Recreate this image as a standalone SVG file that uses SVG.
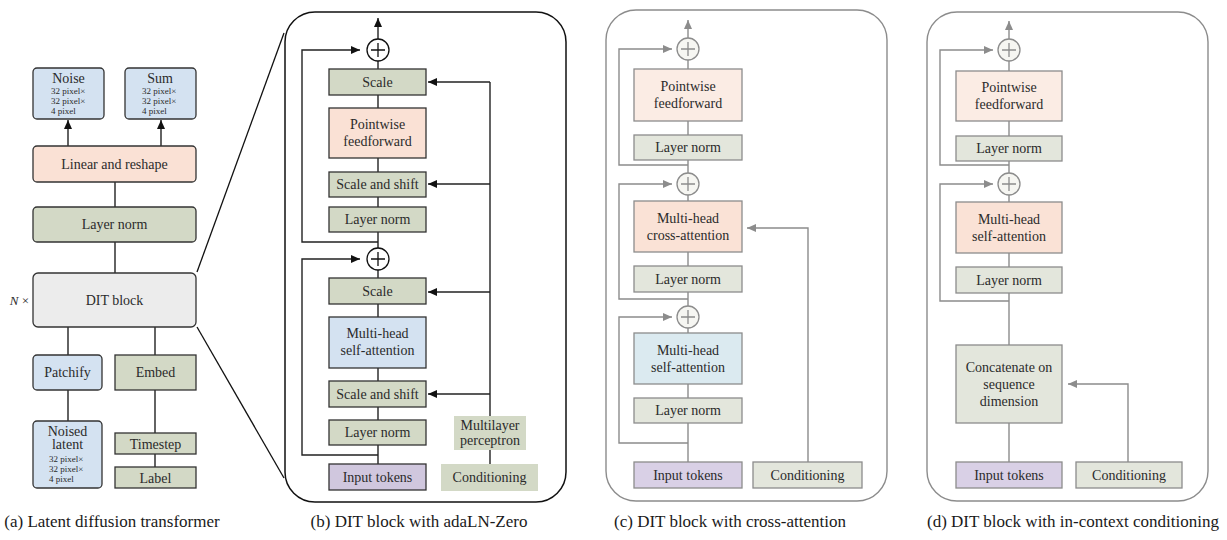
<svg xmlns="http://www.w3.org/2000/svg" width="1227" height="540" viewBox="0 0 1227 540" font-family="'Liberation Serif', 'DejaVu Serif', serif">
<style>
text{font-family:'Liberation Serif','DejaVu Serif',serif;fill:#2b2b2b;}
.t{font-size:14px;text-anchor:middle;}
.s{font-size:9px;}
.cap{font-size:17px;text-anchor:middle;fill:#1a1a1a;}
.k{stroke:#333;stroke-width:1.3;}
.g{stroke:#8c8c8c;stroke-width:1.3;}
.ln{fill:none;stroke:#222;stroke-width:1.4;}
.lg{fill:none;stroke:#8c8c8c;stroke-width:1.4;}
.blue{fill:#d4e2f1;}
.green{fill:#d3d9c6;}
.peach{fill:#fae1d5;}
.purple{fill:#d0c7de;}
.lgreen{fill:#e3e6dc;}
.lpeach{fill:#fbece4;}
.lpeach2{fill:#fae2d6;}
.lblue{fill:#dbeaf0;}
.lpurple{fill:#d9d0e6;}
</style>
<defs>
<marker id="ak" markerWidth="10" markerHeight="8" refX="9" refY="4" orient="auto" markerUnits="userSpaceOnUse"><path d="M0,0 L9,4 L0,8 Z" fill="#111"/></marker>
<marker id="ag" markerWidth="10" markerHeight="8" refX="9" refY="4" orient="auto" markerUnits="userSpaceOnUse"><path d="M0,0 L9,4 L0,8 Z" fill="#8c8c8c"/></marker>
</defs>

<g id="frames">
<rect x="285" y="12" width="281" height="490" rx="30" fill="none" stroke="#111" stroke-width="1.5"/>
<rect x="606" y="10" width="281" height="491" rx="30" fill="none" stroke="#8c8c8c" stroke-width="1.4"/>
<rect x="927" y="12" width="281" height="489" rx="30" fill="none" stroke="#8c8c8c" stroke-width="1.4"/>
<line x1="197" y1="272" x2="284" y2="33" stroke="#111" stroke-width="1.3"/>
<line x1="197" y1="327" x2="284" y2="478" stroke="#111" stroke-width="1.3"/>
</g>

<g id="connectors">
<line class="ln" x1="68" y1="146" x2="68" y2="120" marker-end="url(#ak)"/>
<line class="ln" x1="161" y1="146" x2="161" y2="120" marker-end="url(#ak)"/>
<line class="ln" x1="115" y1="182" x2="115" y2="207"/>
<line class="ln" x1="115" y1="242" x2="115" y2="273"/>
<line class="ln" x1="68" y1="327" x2="68" y2="355"/>
<line class="ln" x1="155" y1="327" x2="155" y2="355"/>
<line class="ln" x1="68" y1="390" x2="68" y2="421"/>
<line class="ln" x1="155" y1="390" x2="155" y2="433"/>
<line class="ln" x1="155" y1="454" x2="155" y2="467"/>
<line class="ln" x1="378" y1="464" x2="378" y2="61"/>
<line class="ln" x1="378" y1="39" x2="378" y2="18" marker-end="url(#ak)"/>
<polyline class="ln" points="378,242 302,242 302,50 360,50" marker-end="url(#ak)"/>
<polyline class="ln" points="378,455 302,455 302,259 360,259" marker-end="url(#ak)"/>
<line class="ln" x1="490" y1="82" x2="490" y2="464"/>
<line class="ln" x1="490" y1="82" x2="428" y2="82" marker-end="url(#ak)"/>
<line class="ln" x1="490" y1="184" x2="428" y2="184" marker-end="url(#ak)"/>
<line class="ln" x1="490" y1="292" x2="428" y2="292" marker-end="url(#ak)"/>
<line class="ln" x1="490" y1="394" x2="428" y2="394" marker-end="url(#ak)"/>
<line class="lg" x1="688" y1="462" x2="688" y2="60"/>
<line class="lg" x1="688" y1="38" x2="688" y2="20" marker-end="url(#ag)"/>
<polyline class="lg" points="688,165 619,165 619,49 672,49" marker-end="url(#ag)"/>
<polyline class="lg" points="688,299 619,299 619,184 672,184" marker-end="url(#ag)"/>
<polyline class="lg" points="688,443 619,443 619,317 672,317" marker-end="url(#ag)"/>
<polyline class="lg" points="808,462 808,228 747,228" marker-end="url(#ag)"/>
<line class="lg" x1="1009" y1="462" x2="1009" y2="61"/>
<line class="lg" x1="1009" y1="39" x2="1009" y2="21" marker-end="url(#ag)"/>
<polyline class="lg" points="1009,165 940,165 940,50 993,50" marker-end="url(#ag)"/>
<polyline class="lg" points="1009,301 940,301 940,184 993,184" marker-end="url(#ag)"/>
<polyline class="lg" points="1128,462 1128,384 1068,384" marker-end="url(#ag)"/>
</g>

<g id="a-noise"><rect class="blue k" x="33" y="68" width="71" height="51" rx="4"/>
<text class="t" x="68.5" y="83">Noise</text>
<text class="s" x="51" y="94">32 pixel×</text><text class="s" x="51" y="104">32 pixel×</text><text class="s" x="51" y="114">4 pixel</text></g>
<g id="a-sum"><rect class="blue k" x="125" y="68" width="71" height="51" rx="4"/>
<text class="t" x="160" y="83">Sum</text>
<text class="s" x="142" y="94">32 pixel×</text><text class="s" x="142" y="104">32 pixel×</text><text class="s" x="142" y="114">4 pixel</text></g>
<g id="a-linear"><rect class="peach k" x="33" y="146" width="163" height="36" rx="4"/><text class="t" x="114.5" y="169">Linear and reshape</text></g>
<g id="a-layernorm"><rect class="green k" x="33" y="207" width="163" height="35" rx="4"/><text class="t" x="114.5" y="229">Layer norm</text></g>
<g id="a-dit"><rect x="33" y="273" width="163" height="54" rx="5" fill="#ececec" stroke="#333" stroke-width="1.3"/><text class="t" x="114.5" y="305">DIT block</text>
<text x="29" y="305" style="font-size:13px;text-anchor:end"><tspan font-style="italic">N</tspan> ×</text></g>
<g id="a-patchify"><rect class="blue k" x="33" y="355" width="69" height="35" rx="4"/><text class="t" x="67.5" y="377">Patchify</text></g>
<g id="a-embed"><rect class="green k" x="115" y="355" width="81" height="35"/><text class="t" x="155.5" y="377">Embed</text></g>
<g id="a-noised"><rect class="blue k" x="33" y="421" width="69" height="67" rx="4"/>
<text class="t" x="67.5" y="436">Noised</text><text class="t" x="67.5" y="449">latent</text>
<text class="s" x="49" y="462">32 pixel×</text><text class="s" x="49" y="472">32 pixel×</text><text class="s" x="49" y="482">4 pixel</text></g>
<g id="a-timestep"><rect class="green k" x="115" y="433" width="81" height="21"/><text class="t" x="155.5" y="448.5">Timestep</text></g>
<g id="a-label"><rect class="green k" x="115" y="467" width="81" height="21"/><text class="t" x="155.5" y="482.5">Label</text></g>

<g id="b-plus1"><circle cx="378" cy="50" r="11" fill="#fff" stroke="#111" stroke-width="1.3"/><path d="M371,50 H385 M378,43 V57" stroke="#111" stroke-width="1.3"/></g>
<g id="b-scale1"><rect class="green k" x="329" y="69" width="97" height="26"/><text class="t" x="377.5" y="87">Scale</text></g>
<g id="b-ff"><rect class="peach k" x="329" y="108" width="97" height="50"/><text class="t" x="377.5" y="129">Pointwise</text><text class="t" x="377.5" y="146">feedforward</text></g>
<g id="b-ss1"><rect class="green k" x="329" y="172" width="97" height="25"/><text class="t" x="377.5" y="189">Scale and shift</text></g>
<g id="b-ln1"><rect class="green k" x="329" y="207" width="97" height="25"/><text class="t" x="377.5" y="224">Layer norm</text></g>
<g id="b-plus2"><circle cx="378" cy="259" r="11" fill="#fff" stroke="#111" stroke-width="1.3"/><path d="M371,259 H385 M378,252 V266" stroke="#111" stroke-width="1.3"/></g>
<g id="b-scale2"><rect class="green k" x="329" y="278" width="97" height="26"/><text class="t" x="377.5" y="296">Scale</text></g>
<g id="b-mhsa"><rect class="blue k" x="329" y="317" width="97" height="51"/><text class="t" x="377.5" y="338">Multi-head</text><text class="t" x="377.5" y="355">self-attention</text></g>
<g id="b-ss2"><rect class="green k" x="329" y="381" width="97" height="26"/><text class="t" x="377.5" y="399">Scale and shift</text></g>
<g id="b-ln2"><rect class="green k" x="329" y="420" width="97" height="25"/><text class="t" x="377.5" y="437">Layer norm</text></g>
<g id="b-input"><rect class="purple k" x="329" y="464" width="97" height="26"/><text class="t" x="377.5" y="482">Input tokens</text></g>
<g id="b-mlp"><rect class="green" x="454" y="416" width="72" height="34"/><text class="t" x="490" y="430">Multilayer</text><text class="t" x="490" y="445">perceptron</text></g>
<g id="b-cond"><rect class="green" x="441" y="464" width="97" height="27"/><text class="t" x="489.5" y="482">Conditioning</text></g>

<g id="c-plus1"><circle cx="688" cy="49" r="11" fill="#f6f6f2" stroke="#8c8c8c" stroke-width="1.3"/><path d="M681,49 H695 M688,42 V56" stroke="#8c8c8c" stroke-width="1.3"/></g>
<g id="c-ff"><rect class="lpeach g" x="634" y="69" width="108" height="52"/><text class="t" x="688" y="91">Pointwise</text><text class="t" x="688" y="108">feedforward</text></g>
<g id="c-ln1"><rect class="lgreen g" x="634" y="135" width="108" height="25"/><text class="t" x="688" y="152">Layer norm</text></g>
<g id="c-plus2"><circle cx="688" cy="184" r="11" fill="#f6f6f2" stroke="#8c8c8c" stroke-width="1.3"/><path d="M681,184 H695 M688,177 V191" stroke="#8c8c8c" stroke-width="1.3"/></g>
<g id="c-cross"><rect class="lpeach2 g" x="634" y="201" width="108" height="51"/><text class="t" x="688" y="223">Multi-head</text><text class="t" x="688" y="240">cross-attention</text></g>
<g id="c-ln2"><rect class="lgreen g" x="634" y="266" width="108" height="26"/><text class="t" x="688" y="284">Layer norm</text></g>
<g id="c-plus3"><circle cx="688" cy="317" r="11" fill="#f6f6f2" stroke="#8c8c8c" stroke-width="1.3"/><path d="M681,317 H695 M688,310 V324" stroke="#8c8c8c" stroke-width="1.3"/></g>
<g id="c-self"><rect class="lblue g" x="634" y="333" width="108" height="51"/><text class="t" x="688" y="355">Multi-head</text><text class="t" x="688" y="372">self-attention</text></g>
<g id="c-ln3"><rect class="lgreen g" x="634" y="398" width="108" height="25"/><text class="t" x="688" y="415">Layer norm</text></g>
<g id="c-input"><rect class="lpurple g" x="634" y="462" width="108" height="26"/><text class="t" x="688" y="480">Input tokens</text></g>
<g id="c-cond"><rect class="lgreen g" x="753" y="462" width="109" height="26"/><text class="t" x="807.5" y="480">Conditioning</text></g>

<g id="d-plus1"><circle cx="1009" cy="50" r="11" fill="#f6f6f2" stroke="#8c8c8c" stroke-width="1.3"/><path d="M1002,50 H1016 M1009,43 V57" stroke="#8c8c8c" stroke-width="1.3"/></g>
<g id="d-ff"><rect class="lpeach g" x="956" y="71" width="106" height="50"/><text class="t" x="1009" y="92">Pointwise</text><text class="t" x="1009" y="109">feedforward</text></g>
<g id="d-ln1"><rect class="lgreen g" x="956" y="136" width="106" height="25"/><text class="t" x="1009" y="153">Layer norm</text></g>
<g id="d-plus2"><circle cx="1009" cy="184" r="11" fill="#f6f6f2" stroke="#8c8c8c" stroke-width="1.3"/><path d="M1002,184 H1016 M1009,177 V191" stroke="#8c8c8c" stroke-width="1.3"/></g>
<g id="d-self"><rect class="lpeach2 g" x="956" y="202" width="106" height="51"/><text class="t" x="1009" y="224">Multi-head</text><text class="t" x="1009" y="241">self-attention</text></g>
<g id="d-ln2"><rect class="lgreen g" x="956" y="267" width="106" height="26"/><text class="t" x="1009" y="285">Layer norm</text></g>
<g id="d-concat"><rect class="lgreen g" x="956" y="345" width="106" height="78"/><text class="t" x="1009" y="372">Concatenate on</text><text class="t" x="1009" y="389">sequence</text><text class="t" x="1009" y="406">dimension</text></g>
<g id="d-input"><rect class="lpurple g" x="956" y="462" width="106" height="26"/><text class="t" x="1009" y="480">Input tokens</text></g>
<g id="d-cond"><rect class="lgreen g" x="1076" y="462" width="106" height="26"/><text class="t" x="1129" y="480">Conditioning</text></g>

<g id="captions">
<text class="cap" x="112" y="527">(a) Latent diffusion transformer</text>
<text class="cap" x="419" y="527">(b) DIT block with adaLN-Zero</text>
<text class="cap" x="730" y="527">(c) DIT block with cross-attention</text>
<text class="cap" x="1073" y="527">(d) DIT block with in-context conditioning</text>
</g>
</svg>
